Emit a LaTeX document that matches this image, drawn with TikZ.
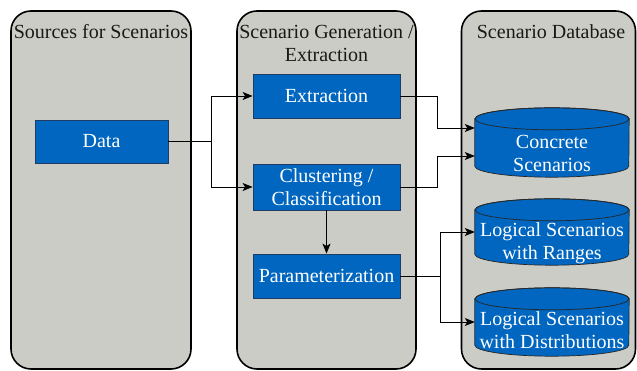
\documentclass[tikz,border=0pt]{standalone}
\usepackage{fontspec}
\setmainfont{Liberation Serif}
\newfontfamily\diagfont{Liberation Serif}
\usetikzlibrary{arrows.meta,positioning,calc}
\definecolor{panelgray}{RGB}{204,204,198}
\definecolor{boxblue}{RGB}{0,102,192}
\definecolor{boxedge}{RGB}{30,60,100}
\tikzset{
  panel/.style={draw=black,line width=1.6pt,fill=panelgray,rounded corners=20pt,inner sep=0pt},
  bluebox/.style={draw=boxedge,line width=0.8pt,fill=boxblue,text=white,align=center,inner sep=0pt,
    font=\diagfont\fontsize{20}{23}\selectfont},
  cylbox/.style={inner sep=0pt},
  cyltext/.style={text=white,align=center,inner sep=0pt,font=\diagfont\fontsize{20}{23}\selectfont},
  cylfill/.style={draw=black!85,line width=0.7pt,fill=boxblue},
  title/.style={align=center,inner sep=0pt,text=black!90,font=\diagfont\fontsize{20}{23}\selectfont},
  conn/.style={draw=black,line width=0.8pt},
  arr/.style={conn,-{Stealth[length=10pt,width=8pt,inset=2.5pt]}}
}
\newcommand{\cylshape}[1]{%
  \path[cylfill] ([yshift=-11pt]#1.north west) -- ([yshift=11pt]#1.south west)
    arc[start angle=180,end angle=360,x radius=77pt,y radius=11pt]
    -- ([yshift=-11pt]#1.north east)
    arc[start angle=0,end angle=180,x radius=77pt,y radius=11pt] -- cycle;
  \draw[cylfill,fill=none] ([yshift=-11pt]#1.north) ellipse[x radius=77pt,y radius=11pt];
}
\begin{document}
\begin{tikzpicture}[x=1pt,y=1pt]
\useasboundingbox (0,0) rectangle (637,371);
% panels
\node[panel,minimum width=180pt,minimum height=358pt] (srcpanel) at (101,181) {};
\node[panel,minimum width=179pt,minimum height=358pt] (genpanel) at (326.5,181) {};
\node[panel,minimum width=174pt,minimum height=358pt] (dbpanel) at (548.5,181) {};
% titles
\node[title] (srctitle) at (101,339) {Sources for Scenarios};
\node[title] (gentitle) at (326.5,328) {Scenario Generation /\\Extraction};
\node[title] (dbtitle) at (551,339) {Scenario Database};
% boxes
\node[bluebox,minimum width=133pt,minimum height=43pt] (data) at (101.5,229.5) {Data};
\node[bluebox,minimum width=147pt,minimum height=44pt] (extr) at (326.5,275) {Extraction};
\node[bluebox,minimum width=147pt,minimum height=46pt] (clust) at (326.5,184) {Clustering /\\Classification};
\node[bluebox,minimum width=147pt,minimum height=44pt] (param) at (326.5,95) {Parameterization};
% cylinders
\node[cylbox,minimum width=154pt,minimum height=69pt] (conc) at (552,228.5) {};
\node[cylbox,minimum width=154pt,minimum height=66pt] (rang) at (552,139) {};
\node[cylbox,minimum width=154pt,minimum height=68pt] (dist) at (552,49) {};
\cylshape{conc}
\cylshape{rang}
\cylshape{dist}
\node[cyltext] (conct) at (552,218) {Concrete\\Scenarios};
\node[cyltext] (rangt) at (552,128) {Logical Scenarios\\with Ranges};
\node[cyltext] (distt) at (552,41) {Logical Scenarios\\with Distributions};
% connectors
\coordinate (split1) at (211,229.5);
\draw[conn] (data.east) -- (split1);
\draw[arr] (split1) |- (extr.west);
\draw[arr] (split1) |- (clust.west);
\draw[arr] (clust.south) -- (param.north);
\coordinate (c1) at ([yshift=14.5pt]conc.west);
\coordinate (c2) at ([yshift=-13.5pt]conc.west);
\draw[arr] (extr.east) -- (437,275) |- (c1);
\draw[arr] (clust.east) -- (437,184) |- (c2);
\coordinate (split2) at (440,95);
\draw[conn] (param.east) -- (split2);
\draw[arr] (split2) |- (rang.west);
\draw[arr] (split2) |- (dist.west);
\end{tikzpicture}
\end{document}
